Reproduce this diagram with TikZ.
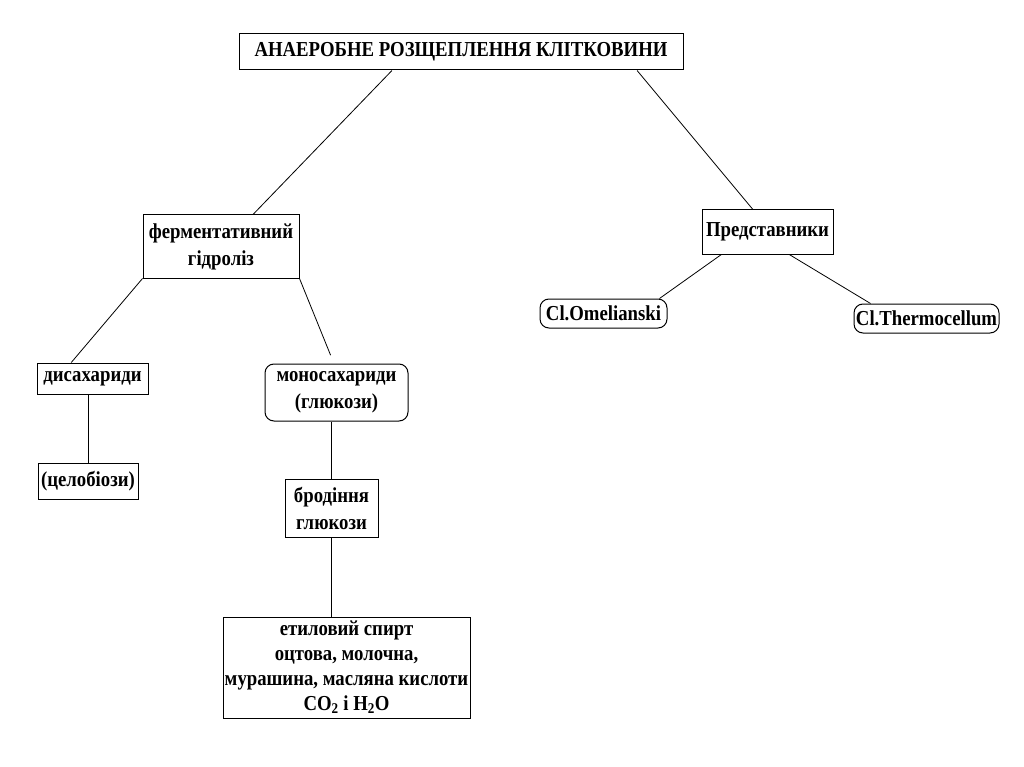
\documentclass[tikz,border=0pt]{standalone}
\usepackage{fontspec}
\setmainfont{Liberation Serif}[FakeStretch=0.88]

\begin{document}
\begin{tikzpicture}
  [x=1pt,y=-1pt,line width=.8pt,
   every node/.style={draw,line width=1pt,inner sep=0pt,align=center,
     font=\fontsize{21.3}{27}\selectfont\bfseries},
   roundbox/.style={rounded corners=9pt}]
  \useasboundingbox[fill=white] (0,0) rectangle (1024,767);

  \node[minimum width=444pt,minimum height=36pt] (title) at (461,52) {АНАЕРОБНЕ РОЗЩЕПЛЕННЯ КЛІТКОВИНИ};
  \node[minimum width=156pt,minimum height=63pt] (ferm) at (221,246.5) {ферментативний\\гідроліз};
  \node[minimum width=131pt,minimum height=44pt] (pred) at (767.5,232) {Представники};
  \node[minimum width=111pt,minimum height=31pt] (disah) at (92.5,378.5) {дисахариди};
  \node[minimum width=100pt,minimum height=36pt] (celob) at (88,481) {(целобіози)};
  \node[roundbox,minimum width=143pt,minimum height=57pt] (monos) at (336.5,392.5) {моносахариди\\(глюкози)};
  \node[minimum width=93pt,minimum height=58pt] (brod) at (331.5,508) {бродіння\\глюкози};
  \node[minimum width=247pt,minimum height=101pt,font=\fontsize{21.3}{25}\selectfont\bfseries] (prod) at (346.5,667.5)
    {етиловий спирт\\оцтова, молочна,\\мурашина, масляна кислоти\\CO\textsubscript{2} і H\textsubscript{2}O};
  \node[roundbox,minimum width=127pt,minimum height=29pt] (omel) at (603.5,313.5) {Cl.Omelianski};
  \node[roundbox,minimum width=145pt,minimum height=29pt] (therm) at (926.5,318.5) {Cl.Thermocellum};

  \draw (title.195) -- (ferm.45);
  \draw (title.-6) -- (pred.123);
  \draw (ferm.south west) -- (disah.143);
  \draw[shorten >=9pt] (ferm.south east) -- (monos.95);
  \draw (celob.north |- disah.south) -- (celob.north);
  \draw (brod.north |- monos.south) -- (brod.north);
  \draw (brod.south) -- (brod.south |- prod.north);
  \draw (pred.206) -- (omel.15);
  \draw (pred.-46) -- (therm.165);

\end{tikzpicture}
\end{document}
